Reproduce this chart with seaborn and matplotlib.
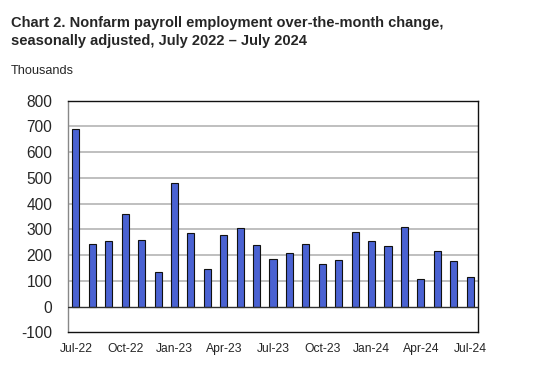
import pandas as pd
import seaborn as sns
import matplotlib.pyplot as plt

# --- Data (thousands, over-the-month change) ---
months = ["Jul-22", "Aug-22", "Sep-22", "Oct-22", "Nov-22", "Dec-22",
          "Jan-23", "Feb-23", "Mar-23", "Apr-23", "May-23", "Jun-23",
          "Jul-23", "Aug-23", "Sep-23", "Oct-23", "Nov-23", "Dec-23",
          "Jan-24", "Feb-24", "Mar-24", "Apr-24", "May-24", "Jun-24", "Jul-24"]
change = [690, 242, 255, 361, 258, 136,
          482, 286, 145, 278, 304, 241,
          184, 210, 245, 166, 181, 290,
          256, 237, 311, 107, 216, 179, 114]
y_ticks = [-100, 0, 100, 200, 300, 400, 500, 600, 700, 800]

df = pd.DataFrame({"month": months, "change": change})

sns.set_style("white")
plt.rcParams['font.family'] = ['Liberation Sans', 'DejaVu Sans']

fig = plt.figure(figsize=(5.47, 3.76), dpi=100)
ax = fig.add_axes([0.1238, 0.1162, 0.7506, 0.616])

# gridlines behind bars
for t in y_ticks[2:-1]:
    ax.axhline(t, color="#b4b4b4", linewidth=1.2, zorder=0)
ax.axhline(0, color="#303030", linewidth=1.0, zorder=3)

sns.barplot(data=df, x="month", y="change", ax=ax, color="#4a62d2",
            saturation=1, width=0.43, edgecolor="#111111", linewidth=0.8,
            zorder=2)

ax.set_ylim(-100, 800)
ax.set_yticks(y_ticks)
ax.set_yticklabels([str(t) for t in y_ticks], fontsize=11.2)
ax.set_xticks(range(0, len(months), 3))
ax.set_xticklabels(months[::3], fontsize=8.7)
ax.tick_params(axis="both", length=0)
ax.tick_params(axis="y", pad=11)
ax.tick_params(axis="x", pad=8)
ax.set_xlabel("")
ax.set_ylabel("")

for side in ["top", "right", "bottom"]:
    ax.spines[side].set_color("#111111")
    ax.spines[side].set_linewidth(1.0)
ax.spines["left"].set_color("#888888")
ax.spines["left"].set_linewidth(1.0)

fig.text(11 / 547, 1 - 16 / 376,
         "Chart 2. Nonfarm payroll employment over-the-month change,\n"
         "seasonally adjusted, July 2022 \u2013 July 2024",
         fontsize=10.5, fontweight="bold", va="top", ha="left", linespacing=1.35)
fig.text(11 / 547, 1 - 65 / 376, "Thousands", fontsize=9.2, va="top", ha="left")

fig.savefig("out.png", dpi=100)
plt.close(fig)
